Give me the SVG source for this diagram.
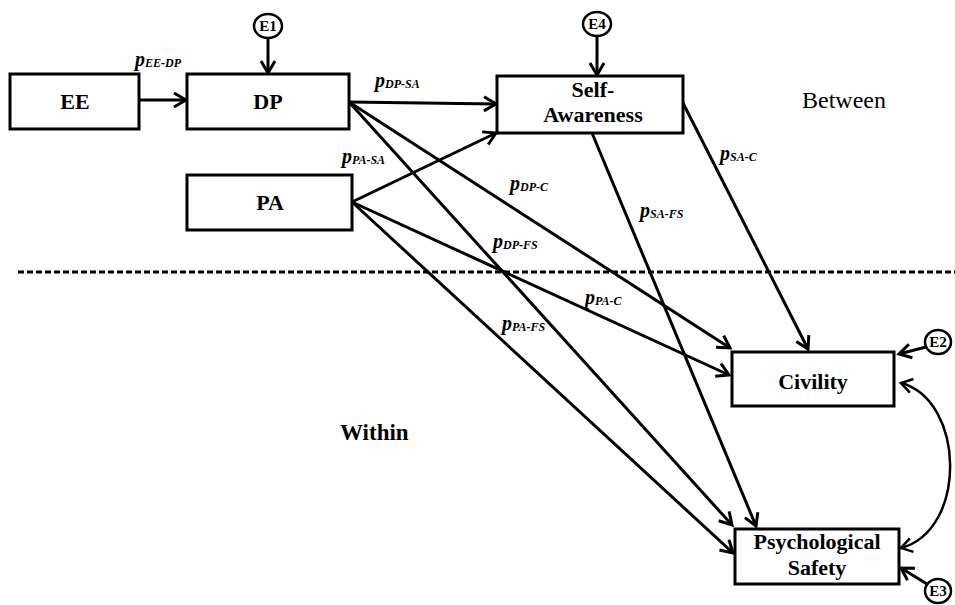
<svg xmlns="http://www.w3.org/2000/svg" width="955" height="605" viewBox="0 0 955 605" font-family="Liberation Serif, serif">
<style>
.box{fill:#fff;stroke:#000;stroke-width:3}
.nl{font-weight:bold;font-size:22px;text-anchor:middle;fill:#000}
.el{font-weight:bold;font-size:15px;text-anchor:middle;fill:#000}
.err{fill:#fff;stroke:#000;stroke-width:2.5}
.edge{stroke:#000;stroke-width:3;fill:none;marker-end:url(#ah)}
.lbl{font-style:italic;font-weight:bold;font-size:20px;fill:#000}
.sub{font-size:12px}
.zone{font-size:24px;fill:#000}
</style>
<defs>
<marker id="ah" markerUnits="userSpaceOnUse" markerWidth="30" markerHeight="30" viewBox="-15 -15 30 30" refX="0" refY="0" orient="auto-start-reverse">
<path d="M-12,-7 L0,0 L-12,7" fill="none" stroke="#000" stroke-width="3"/>
</marker>
<marker id="ah2" markerUnits="userSpaceOnUse" markerWidth="30" markerHeight="30" viewBox="-15 -15 30 30" refX="0" refY="0" orient="auto-start-reverse">
<path d="M-11,-7 L0,0 L-11,7" fill="none" stroke="#000" stroke-width="2.5"/>
</marker>
</defs>
<rect width="955" height="605" fill="#fff"/>
<line x1="18" y1="272" x2="955" y2="272" stroke="#000" stroke-width="3" stroke-dasharray="6,3"/>
<text class="zone" x="802" y="108" font-family="Liberation Serif, serif">Between</text>
<text class="zone" x="340" y="440" font-weight="bold" style="font-size:23px" font-family="Liberation Serif, serif">Within</text>
<g id="connectors">
<line class="edge" x1="139" y1="100" x2="186" y2="100"/>
<line class="edge" x1="268" y1="38" x2="268" y2="73"/>
<line class="edge" x1="597" y1="36" x2="597" y2="75"/>
<line class="edge" x1="349" y1="102" x2="496" y2="104"/>
<line class="edge" x1="352" y1="202" x2="496" y2="133"/>
<line class="edge" x1="349" y1="102" x2="730" y2="348"/>
<line class="edge" x1="349" y1="102" x2="732" y2="525"/>
<line class="edge" x1="352" y1="202" x2="729" y2="375"/>
<line class="edge" x1="352" y1="202" x2="733" y2="553"/>
<line class="edge" x1="683" y1="103" x2="808" y2="349"/>
<line class="edge" x1="592" y1="133" x2="756" y2="526"/>
<line class="edge" x1="926" y1="347" x2="899" y2="354"/>
<line class="edge" x1="927" y1="584" x2="901" y2="568"/>
<path d="M901,383 C965,400 968,530 901,548" fill="none" stroke="#000" stroke-width="2.5" marker-start="url(#ah2)" marker-end="url(#ah2)"/>
</g>
<g id="labels" font-family="Liberation Serif, serif">
<text class="lbl" x="135" y="66">p<tspan class="sub" dy="1">EE-DP</tspan></text>
<text class="lbl" x="375" y="87">p<tspan class="sub" dy="1">DP-SA</tspan></text>
<text class="lbl" x="342" y="163">p<tspan class="sub" dy="1">PA-SA</tspan></text>
<text class="lbl" x="720" y="160">p<tspan class="sub" dy="1">SA-C</tspan></text>
<text class="lbl" x="510" y="190">p<tspan class="sub" dy="1">DP-C</tspan></text>
<text class="lbl" x="640" y="217">p<tspan class="sub" dy="1">SA-FS</tspan></text>
<text class="lbl" x="493" y="248">p<tspan class="sub" dy="1">DP-FS</tspan></text>
<text class="lbl" x="585" y="304">p<tspan class="sub" dy="1">PA-C</tspan></text>
<text class="lbl" x="502" y="330">p<tspan class="sub" dy="1">PA-FS</tspan></text>
</g>
<g id="EE" font-family="Liberation Serif, serif"><rect class="box" x="10" y="74" width="129" height="55"/><text class="nl" x="75" y="109">EE</text></g>
<g id="DP" font-family="Liberation Serif, serif"><rect class="box" x="187" y="74" width="162" height="55"/><text class="nl" x="268" y="109">DP</text></g>
<g id="PA" font-family="Liberation Serif, serif"><rect class="box" x="187" y="175" width="165" height="55"/><text class="nl" x="270" y="210">PA</text></g>
<g id="SA" font-family="Liberation Serif, serif"><rect class="box" x="497" y="76" width="186" height="57"/><text class="nl" x="593" y="97">Self-</text><text class="nl" x="593" y="122">Awareness</text></g>
<g id="Civility" font-family="Liberation Serif, serif"><rect class="box" x="732" y="352" width="162" height="54"/><text class="nl" x="813" y="389">Civility</text></g>
<g id="PS" font-family="Liberation Serif, serif"><rect class="box" x="735" y="529" width="164" height="55"/><text class="nl" x="817" y="549">Psychological</text><text class="nl" x="817" y="575">Safety</text></g>
<g id="E1" font-family="Liberation Serif, serif"><ellipse class="err" cx="268" cy="26" rx="14" ry="12"/><text class="el" x="268" y="31">E1</text></g>
<g id="E4" font-family="Liberation Serif, serif"><ellipse class="err" cx="597" cy="24" rx="14" ry="12"/><text class="el" x="597" y="29">E4</text></g>
<g id="E2" font-family="Liberation Serif, serif"><ellipse class="err" cx="938" cy="342" rx="13" ry="12"/><text class="el" x="938" y="347">E2</text></g>
<g id="E3" font-family="Liberation Serif, serif"><ellipse class="err" cx="938" cy="591" rx="13" ry="12"/><text class="el" x="938" y="596">E3</text></g>
</svg>
